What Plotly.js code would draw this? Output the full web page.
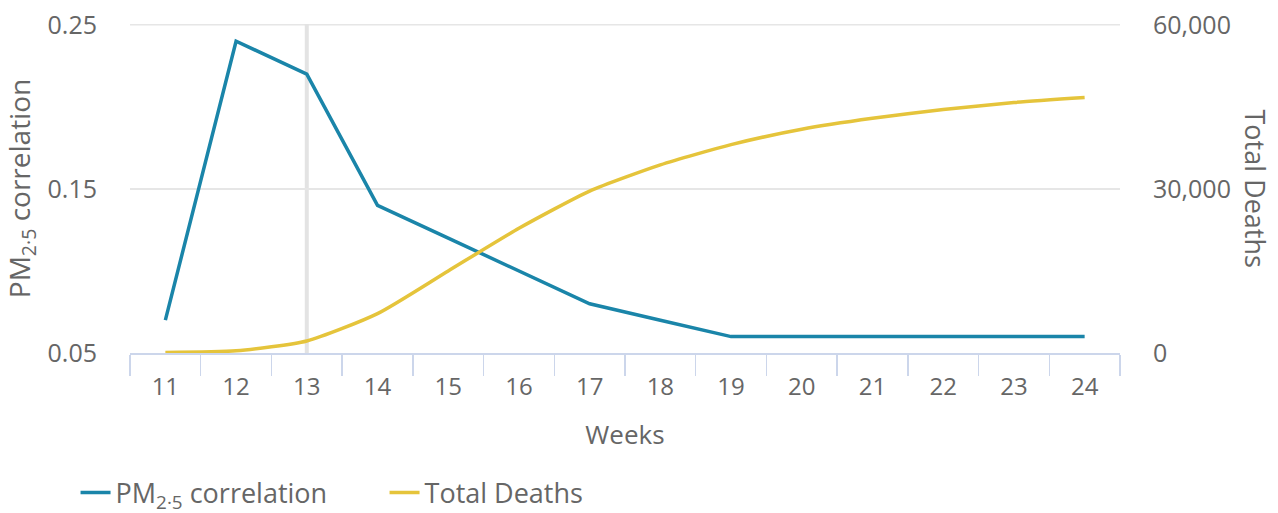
<!DOCTYPE html>
<html><head><meta charset="utf-8">
<script src="https://cdn.plot.ly/plotly-3.0.1.min.js"></script>
<style>html,body{margin:0;padding:0;background:#fff}#c{width:1278px;height:513px}</style>
</head><body><div id="c"></div>
<script>
const weeks = ['11','12','13','14','15','16','17','18','19','20','21','22','23','24'];
const pmCorrelation = [0.07,0.24,0.22,0.14,0.12,0.10,0.08,0.07,0.06,0.06,0.06,0.06,0.06,0.06];
const totalDeaths = [100,400,2200,7200,15000,22800,29600,34400,38100,40900,42900,44500,45800,46700];
const pmTicks = [0.05,0.15,0.25];
const pmTickLabels = ['0.05','0.15','0.25'];
const deathTicks = [0,30000,60000];
const deathTickLabels = ['0','30,000','60,000'];
const highlightWeek = '13';

const txt = '#666666';
const font = {family:'"Open Sans", sans-serif', size:24, color:txt};
const data = [
  {x:weeks, y:pmCorrelation, type:'scatter', mode:'lines', name:'PM<sub>2·5</sub> correlation',
   line:{color:'#1a85a9', width:3.5}, yaxis:'y'},
  {x:weeks, y:totalDeaths, type:'scatter', mode:'lines', name:'Total Deaths',
   line:{color:'#e5c43b', width:3.5, shape:'spline', smoothing:0.6}, yaxis:'y2'}
];
const hi = weeks.indexOf(highlightWeek);
const topTick = pmTicks[pmTicks.length-1];
const layout = {
  width:1278, height:513,
  margin:{l:130, r:158, t:24, b:160, autoexpand:false},
  paper_bgcolor:'#fff', plot_bgcolor:'#fff',
  font:font,
  showlegend:true,
  legend:{orientation:'h', x:-0.055, xanchor:'left', y:-0.425, yanchor:'middle', font:{size:27,color:txt},
          traceorder:'normal', entrywidth:264, entrywidthmode:'pixels'},
  xaxis:{type:'category', range:[-0.5, weeks.length-0.5], tickson:'boundaries', ticks:'outside', ticklen:21, tickcolor:'#ccd6eb', tickwidth:1.5,
         showline:true, linecolor:'#ccd6eb', linewidth:2, showgrid:false, zeroline:false, ticklabelstandoff:11,
         tickfont:{size:24,color:txt}, title:{text:'Weeks', font:{size:26,color:txt}, standoff:25}},
  yaxis:{range:[0.05,0.2505], tickvals:pmTicks, ticktext:pmTickLabels, showgrid:true, gridcolor:'#e6e6e6', gridwidth:1.5,
         zeroline:false, tickfont:{size:25,color:txt}, ticks:'', ticklabelstandoff:32,
         title:{text:'PM<sub>2·5</sub> correlation', font:{size:28,color:txt}, standoff:12}},
  yaxis2:{range:[0,60150], tickvals:deathTicks, ticktext:deathTickLabels, overlaying:'y', side:'right', showgrid:false,
          zeroline:false, tickfont:{size:25,color:txt}, ticklabelstandoff:32},
  annotations:[{text:'Total Deaths', xref:'paper', yref:'paper', x:(1255-130)/990, y:0.5, xanchor:'center', yanchor:'middle',
                textangle:90, showarrow:false, font:{size:27,color:txt}}],
  shapes:[
    {type:'line', xref:'paper', yref:'y', x0:0, x1:1, y0:topTick, y1:topTick, line:{color:'#e6e6e6', width:1.5}, layer:'below'},
    {type:'line', xref:'x', yref:'paper', x0:hi, x1:hi, y0:0, y1:1, line:{color:'#e3e3e3', width:4}, layer:'below'}
  ]
};
Plotly.newPlot('c', data, layout, {displayModeBar:false, staticPlot:true});
</script></body></html>
